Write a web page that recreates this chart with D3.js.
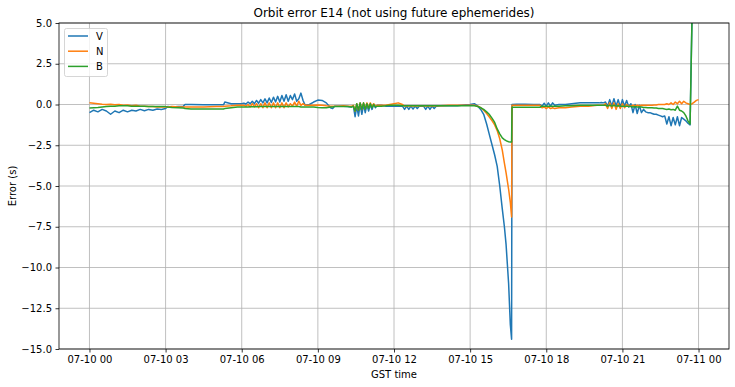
<!DOCTYPE html>
<html>
<head>
<meta charset="utf-8">
<script src="https://cdn.jsdelivr.net/npm/d3@7"></script>
<style>
  body { margin: 0; background: #fff; }
  svg { display: block; font-family: "DejaVu Sans", sans-serif; }
</style>
</head>
<body>
<div id="chart"></div>
<script>
// minutes after 07-10 00:00 GST
const minutes = [
  0, 10, 20, 30, 40, 50, 60, 70, 80, 90, 100, 110, 120, 130, 140, 150, 160, 170,
  180, 185, 195, 210, 222, 226, 240, 270, 300, 317, 320, 335, 350,
  360, 365, 370, 375, 380, 385, 390, 395, 400, 405, 410, 415, 420, 425, 430, 435, 440, 445, 450, 455, 460, 465, 470, 475, 480, 485, 490, 495, 500,
  505, 510, 520, 530, 540, 550, 560, 570, 575, 580, 590, 600, 610,
  620, 624, 628, 632, 636, 640, 644, 648, 652, 656, 660, 664, 668, 672, 676, 680,
  690, 700, 710, 720, 730, 740, 745, 750, 755, 760, 765, 770, 775, 780, 790, 795, 800, 805, 810, 815, 820, 830, 850, 870, 890,
  900, 910, 918, 925, 932, 939, 945, 952, 958, 964, 970, 976, 981, 985, 988, 991, 995, 998,
  999, 1010, 1030, 1050, 1065, 1070, 1075, 1080, 1085, 1090, 1095, 1100, 1110, 1125, 1140, 1160, 1180,
  1200, 1205, 1210, 1215, 1220, 1225, 1230, 1235, 1240, 1245, 1250, 1255, 1260, 1265, 1270, 1275, 1280, 1285, 1290, 1295,
  1300, 1305, 1310, 1315, 1320, 1325, 1330, 1335, 1340, 1345, 1350, 1355, 1360, 1365, 1370, 1375, 1380, 1385, 1390, 1395,
  1400, 1405, 1410, 1415, 1420, 1425, 1430, 1435, 1440
];

const errV = [
  -0.5, -0.35, -0.45, -0.3, -0.4, -0.6, -0.4, -0.5, -0.35, -0.45, -0.35, -0.4, -0.3, -0.38, -0.3, -0.35, -0.28, -0.3,
  -0.25, -0.12, -0.15, -0.12, -0.1, 0.0, 0.0, -0.02, -0.02, -0.02, 0.15, 0.05, 0.05,
  0.05, 0.08, 0.03, 0.15, 0.05, 0.2, 0.05, 0.25, 0.08, 0.3, 0.1, 0.35, 0.1, 0.4, 0.12, 0.45, 0.15, 0.5, 0.15, 0.55, 0.2, 0.6, 0.2, 0.55, 0.3, 0.65, 0.2, 0.35, 0.7,
  0.25, -0.05, 0.0, 0.15, 0.27, 0.25, 0.1, -0.2, -0.25, -0.1, -0.1, -0.1, -0.12,
  -0.15, -0.1, -0.75, -0.1, -0.7, 0.0, -0.6, 0.0, -0.5, 0.0, -0.4, 0.0, -0.3, 0.0, -0.2, -0.05,
  -0.05, -0.1, -0.1, -0.1, -0.1, -0.1, -0.3, -0.1, -0.3, -0.1, -0.28, -0.1, -0.25, -0.1, -0.1, -0.3, -0.1, -0.3, -0.1, -0.25, -0.1, -0.08, -0.08, -0.08, -0.02,
  0.0, 0.05, -0.1, -0.3, -0.6, -1.2, -1.8, -2.5, -3.1, -3.8, -5.0, -6.4, -7.5, -8.6, -9.8, -11.0, -13.5, -14.4,
  0.0, 0.02, 0.02, 0.0, 0.0, -0.1, 0.08, -0.1, 0.1, -0.1, 0.1, -0.05, 0.0, 0.0, 0.05, 0.1, 0.1,
  0.1, 0.1, 0.12, 0.1, 0.15, -0.1, 0.3, -0.1, 0.35, -0.1, 0.3, -0.15, 0.3, -0.1, 0.25, -0.15, 0.05, -0.5, 0.0, -0.55,
  -0.05, -0.5, -0.3, -0.45, -0.5, -0.5, -0.55, -0.6, -0.6, -0.65, -0.7, -0.75, -0.7, -1.2, -0.75, -1.3, -0.8, -1.25, -0.75, -1.3,
  -0.8, -0.9, -1.0, -1.15, -1.25, 6.0, null, null, null
];

const errN = [
  0.1, 0.08, 0.05, 0.02, 0.0, 0.02, -0.02, 0.0, -0.05, -0.03, -0.08, -0.05, -0.1, -0.1, -0.12, -0.12, -0.15, -0.15,
  -0.15, -0.15, -0.12, -0.15, -0.15, -0.15, -0.15, -0.15, -0.12, -0.12, -0.1, -0.08, -0.05,
  -0.05, -0.05, -0.1, 0.0, -0.15, 0.05, -0.15, 0.05, -0.2, 0.05, -0.2, 0.1, -0.2, 0.1, -0.2, 0.1, -0.2, 0.1, -0.2, 0.1, -0.2, 0.1, -0.15, 0.05, -0.1, 0.15, -0.1, 0.2, -0.05,
  0.05, -0.05, -0.05, -0.05, -0.03, -0.05, -0.08, -0.1, -0.1, -0.1, -0.1, -0.08, -0.1,
  -0.1, -0.05, -0.4, 0.05, -0.35, 0.1, -0.3, 0.1, -0.25, 0.1, -0.2, 0.1, -0.15, 0.05, -0.1, -0.05,
  -0.05, -0.05, 0.0, 0.05, 0.1, 0.0, -0.1, -0.08, -0.1, -0.08, -0.1, -0.08, -0.1, -0.08, -0.08, -0.1, -0.08, -0.1, -0.08, -0.1, -0.08, -0.08, -0.05, -0.05, -0.05,
  -0.05, -0.05, -0.1, -0.2, -0.35, -0.55, -0.75, -1.0, -1.25, -1.6, -2.1, -2.8, -3.6, -4.2, -4.7, -5.2, -6.0, -6.9,
  -0.05, -0.05, -0.05, -0.05, -0.05, -0.2, -0.15, -0.25, -0.15, -0.25, -0.2, -0.25, -0.2, -0.2, -0.15, -0.1, -0.1,
  -0.05, -0.05, -0.05, -0.05, 0.05, -0.25, 0.1, -0.25, 0.1, -0.3, 0.05, -0.25, 0.05, -0.2, 0.0, -0.1, -0.1, -0.05, -0.08, -0.05,
  -0.08, -0.05, -0.05, -0.05, -0.05, -0.05, -0.05, -0.03, -0.03, 0.0, 0.0, 0.0, 0.0, 0.05, 0.0, 0.1, 0.0, 0.15, 0.05, 0.2,
  0.05, 0.2, 0.1, 0.05, 0.0, 0.05, 0.15, 0.25, 0.3
];

const errB = [
  -0.22, -0.2, -0.18, -0.15, -0.12, -0.1, -0.1, -0.08, -0.08, -0.08, -0.1, -0.1, -0.1, -0.1, -0.12, -0.12, -0.12, -0.13,
  -0.13, -0.15, -0.18, -0.2, -0.22, -0.25, -0.27, -0.28, -0.28, -0.27, -0.25, -0.2, -0.15,
  -0.15, -0.15, -0.15, -0.15, -0.14, -0.14, -0.14, -0.14, -0.13, -0.13, -0.13, -0.13, -0.13, -0.13, -0.13, -0.13, -0.12, -0.12, -0.12, -0.12, -0.12, -0.12, -0.12, -0.12, -0.12, -0.12, -0.12, -0.12, -0.15,
  -0.15, -0.15, -0.15, -0.15, -0.18, -0.2, -0.2, -0.15, -0.15, -0.12, -0.12, -0.12, -0.12,
  -0.15, -0.1, -0.4, 0.05, -0.35, 0.1, -0.3, 0.1, -0.3, 0.05, -0.25, 0.05, -0.2, 0.0, -0.15, -0.1,
  -0.1, -0.08, -0.05, -0.05, -0.05, -0.08, -0.08, -0.08, -0.08, -0.08, -0.08, -0.08, -0.08, -0.08, -0.08, -0.08, -0.08, -0.08, -0.08, -0.08, -0.08, -0.08, -0.08, -0.08, -0.08,
  -0.08, -0.08, -0.12, -0.2, -0.3, -0.45, -0.6, -0.85, -1.1, -1.5, -1.8, -2.05, -2.15, -2.22, -2.26, -2.28, -2.3, -2.3,
  -0.17, -0.17, -0.17, -0.17, -0.17, -0.1, -0.1, -0.1, -0.1, -0.1, -0.1, -0.1, -0.1, -0.08, -0.08, -0.05, -0.05,
  -0.05, -0.05, -0.05, -0.05, -0.05, -0.1, -0.05, -0.1, -0.05, -0.1, -0.08, -0.1, -0.1, -0.1, -0.1, -0.12, -0.12, -0.15, -0.12, -0.15,
  -0.15, -0.15, -0.18, -0.18, -0.2, -0.2, -0.2, -0.22, -0.22, -0.25, -0.25, -0.25, -0.28, -0.3, -0.28, -0.32, -0.3, -0.35, -0.1, -0.35,
  -0.4, -0.5, -0.7, -1.0, -1.2, 6.0, null, null, null
];

const seriesNames = ["V", "N", "B"];
const seriesColors = ["#1f77b4", "#ff7f0e", "#2ca02c"];
const yTicks = [-15, -12.5, -10, -7.5, -5, -2.5, 0, 2.5, 5];

const width = 735, height = 387;
const margin = {top: 23, right: 6, bottom: 38, left: 59};
const plotW = width - margin.left - margin.right;
const plotH = height - margin.top - margin.bottom;

const t0 = Date.UTC(2019, 6, 10, 0, 0);
const toDate = m => new Date(t0 + m * 60000);

// matplotlib-like 5% x margins
const x = d3.scaleUtc()
  .domain([toDate(-72), toDate(1440 + 72)])
  .range([0, plotW]);
const y = d3.scaleLinear().domain([-15, 5]).range([plotH, 0]);

const svg = d3.select("#chart").append("svg")
  .attr("width", width)
  .attr("height", height);

const g = svg.append("g").attr("transform", `translate(${margin.left},${margin.top})`);

const xTicks = d3.range(0, 1441, 180).map(toDate);

// grid
g.append("g").selectAll("line").data(xTicks).join("line")
  .attr("x1", d => x(d)).attr("x2", d => x(d))
  .attr("y1", 0).attr("y2", plotH)
  .attr("stroke", "#b0b0b0").attr("stroke-width", 0.8);
g.append("g").selectAll("line").data(yTicks).join("line")
  .attr("x1", 0).attr("x2", plotW)
  .attr("y1", d => y(d)).attr("y2", d => y(d))
  .attr("stroke", "#b0b0b0").attr("stroke-width", 0.8);

g.append("clipPath").attr("id", "clip")
  .append("rect").attr("width", plotW).attr("height", plotH);

const series = [errV, errN, errB].map((vals, i) => ({
  name: seriesNames[i],
  color: seriesColors[i],
  points: minutes.map((m, j) => ({t: toDate(m), v: vals[j]}))
}));

const line = d3.line()
  .defined(d => d.v !== null)
  .x(d => x(d.t))
  .y(d => y(d.v));

g.append("g").attr("clip-path", "url(#clip)")
  .selectAll("path").data(series).join("path")
  .attr("fill", "none")
  .attr("stroke", d => d.color)
  .attr("stroke-width", 1.5)
  .attr("stroke-linejoin", "round")
  .attr("d", d => line(d.points));

// axes
const xAxis = d3.axisBottom(x)
  .tickValues(xTicks)
  .tickFormat(d3.utcFormat("%m-%d %H"))
  .tickSize(3.5).tickPadding(3.5);
const yAxis = d3.axisLeft(y)
  .tickValues(yTicks)
  .tickFormat(d3.format(".1f"))
  .tickSize(3.5).tickPadding(3.5);

const gx = g.append("g").attr("transform", `translate(0,${plotH})`).call(xAxis);
const gy = g.append("g").call(yAxis);
[gx, gy].forEach(a => {
  a.select(".domain").remove();
  a.selectAll("text").attr("font-size", 10).attr("fill", "#000")
    .attr("font-family", "DejaVu Sans, sans-serif");
  a.selectAll("line").attr("stroke", "#000").attr("stroke-width", 0.8);
});

// frame
g.append("rect")
  .attr("width", plotW).attr("height", plotH)
  .attr("fill", "none").attr("stroke", "#000").attr("stroke-width", 0.8);

// labels
svg.append("text")
  .attr("x", margin.left + plotW / 2).attr("y", 17)
  .attr("text-anchor", "middle").attr("font-size", 12)
  .text("Orbit error E14 (not using future ephemerides)");
svg.append("text")
  .attr("x", margin.left + plotW / 2).attr("y", 378)
  .attr("text-anchor", "middle").attr("font-size", 10)
  .text("GST time");
svg.append("text")
  .attr("transform", `translate(16,${margin.top + plotH / 2}) rotate(-90)`)
  .attr("text-anchor", "middle").attr("font-size", 10)
  .text("Error (s)");

// legend
const lg = g.append("g").attr("transform", "translate(5.5,5.5)");
lg.append("rect")
  .attr("width", 43).attr("height", 48).attr("rx", 2)
  .attr("fill", "#fff").attr("fill-opacity", 0.8)
  .attr("stroke", "#cccccc").attr("stroke-width", 0.8);
const item = lg.selectAll("g.item").data(series).join("g")
  .attr("class", "item")
  .attr("transform", (d, i) => `translate(0,${7.5 + i * 15.2})`);
item.append("line")
  .attr("x1", 3.5).attr("x2", 23.5)
  .attr("stroke", d => d.color).attr("stroke-width", 1.5);
item.append("text")
  .attr("x", 31.5).attr("dy", "0.35em")
  .attr("font-size", 10)
  .text(d => d.name);
</script>
</body>
</html>
